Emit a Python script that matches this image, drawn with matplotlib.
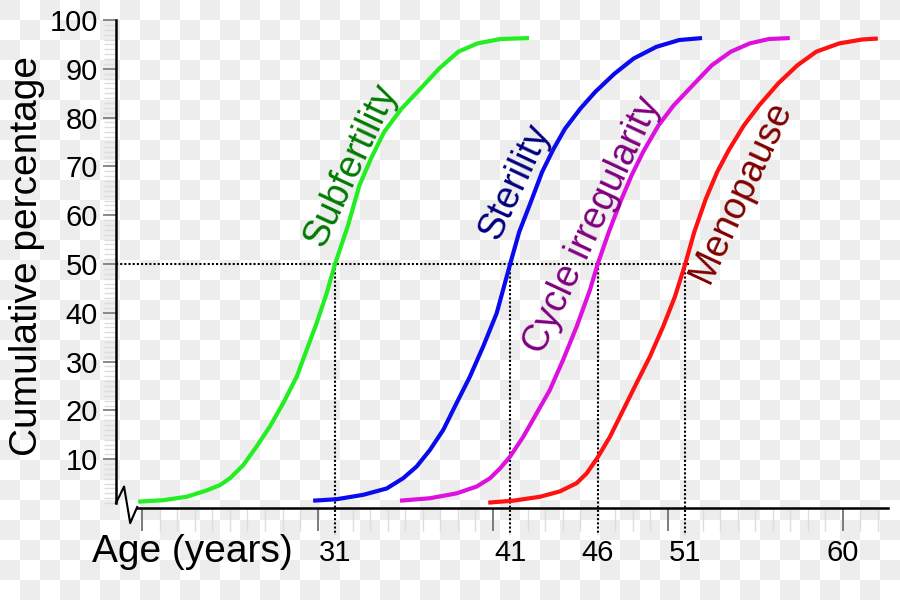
import numpy as np
import matplotlib
matplotlib.use('Agg')
import matplotlib.pyplot as plt

plt.rcParams['font.family'] = ['Liberation Sans', 'DejaVu Sans']

# values: (age in years, cumulative %)
subfert_age = [19.76, 21.19, 22.52, 23.67, 24.43, 25.00, 25.76, 26.52, 27.28, 28.04,
               28.81, 29.38, 29.95, 30.52, 31.0, 31.74, 32.39, 33.05, 33.81, 34.79,
               35.87, 36.96, 38.04, 39.13, 40.44, 42.08]
subfert_pct = [1.3, 1.6, 2.3, 3.6, 4.7, 6.1, 8.8, 12.6, 16.7, 21.5,
               26.9, 32.4, 37.9, 44.0, 50.0, 57.9, 66.1, 71.6, 77.1, 81.8,
               85.9, 90.1, 93.5, 95.2, 96.1, 96.3]

steril_age = [29.75, 31.09, 32.61, 33.95, 34.89, 35.66, 36.42, 37.18, 37.94, 38.70,
              39.46, 40.23, 41.0, 41.52, 42.18, 42.83, 43.48, 44.13, 45.0, 45.87,
              46.96, 48.05, 49.35, 50.66, 51.96]
steril_pct = [1.5, 1.8, 2.7, 4.0, 6.1, 8.5, 11.9, 16.0, 21.5, 26.9,
              33.1, 39.9, 50.0, 56.6, 62.7, 68.9, 73.6, 77.7, 81.8, 85.3,
              89.0, 92.1, 94.5, 95.9, 96.3]

cycle_age = [34.71, 36.42, 37.94, 39.09, 39.85, 40.42, 40.99, 41.75, 42.51, 43.27,
             44.03, 44.80, 45.56, 46.0, 46.64, 47.29, 47.94, 48.60, 49.47, 50.34,
             51.42, 52.51, 53.60, 54.68, 55.77, 56.97]
cycle_pct = [1.5, 2.0, 3.0, 4.4, 6.1, 8.1, 10.5, 14.6, 19.4, 24.2,
             30.4, 37.2, 44.7, 50.0, 56.6, 62.7, 68.2, 73.0, 78.4, 82.5,
             86.6, 90.7, 93.5, 95.2, 96.1, 96.3]

meno_age = [39.75, 41.18, 42.70, 43.84, 44.80, 45.37, 45.97, 46.70, 47.46, 48.22,
            48.98, 49.74, 50.41, 51.0, 51.52, 52.18, 52.83, 53.48, 54.35, 55.22,
            56.31, 57.40, 58.48, 59.79, 61.09, 62.0]
meno_pct = [1.1, 1.5, 2.3, 3.4, 5.1, 7.1, 10.2, 14.6, 20.1, 25.6,
            31.0, 37.2, 43.3, 50.0, 56.6, 63.4, 68.9, 73.3, 78.4, 82.5,
            87.0, 90.7, 93.5, 95.2, 96.0, 96.2]

labels = ['Subfertility', 'Sterility', 'Cycle irregularity', 'Menopause']
medians = [31, 41, 46, 51]
line_colors = ['#22ee22', '#0a0aee', '#dd11dd', '#ff1111']
text_colors = ['#007a00', '#000080', '#800080', '#800000']
label_pos = [(31.9, 70.3), (41.3, 66.8), (45.7, 58.0), (54.2, 64.8)]

fig = plt.figure(figsize=(9, 6), dpi=100)

# checkerboard background (transparent-png look)
yy, xx = np.indices((600, 900))
chk = ((yy // 20 + xx // 20) % 2).astype(float)
bg = np.where(chk[..., None] == 1, 0.933, 1.0) * np.ones((600, 900, 3))
fig.figimage(bg[::-1], 0, 0, zorder=-5)

ax = fig.add_axes([116 / 900, 92 / 600, 772 / 900, 488 / 600])
ax.set_facecolor('none')
ax.set_xlim(18.49, 62.58)
ax.set_ylim(0, 100)

curves = [(subfert_age, subfert_pct), (steril_age, steril_pct),
          (cycle_age, cycle_pct), (meno_age, meno_pct)]
for (xs, ys), c in zip(curves, line_colors):
    ax.plot(xs, ys, color=c, lw=3, solid_capstyle='butt', solid_joinstyle='round',
            zorder=3)

# dotted guide lines at 50 %
ax.plot([18.49, 51.3], [50, 50], color='black', lw=1.5, ls=(0, (1, 1)), zorder=2)
for m in medians:
    ax.plot([m, m], [50, -5.6], color='black', lw=1.5, ls=(0, (1, 1)),
            clip_on=False, zorder=2)

for lab, (tx, ty), c in zip(labels, label_pos, text_colors):
    ax.text(tx, ty, lab, color=c, fontsize=27, rotation=65,
            rotation_mode='anchor', ha='center', va='center')

# spines with broken axis
for s in ['top', 'right']:
    ax.spines[s].set_visible(False)
ax.spines['left'].set_bounds(1, 100)
ax.spines['bottom'].set_bounds(19.7, 62.58)
ax.spines['left'].set_linewidth(1.8)
ax.spines['bottom'].set_linewidth(1.8)
ax.plot([18.49, 18.95, 19.3, 19.7], [1, 4.4, -3.1, 0.2], color='black', lw=1.5,
        clip_on=False)

ax.set_yticks(range(10, 101, 10))
ax.set_yticks([v for v in range(1, 100) if v % 10], minor=True)
ax.tick_params(axis='y', which='major', length=9.5, width=1.2, color='#777777',
               labelsize=21, pad=3.5)
ax.tick_params(axis='y', which='minor', length=8.5, width=1, color='#dddddd')

ax.set_xticks(medians + [60])
ax.set_xticklabels([str(v) for v in medians + [60]])
ax.set_xticks([v for v in range(21, 63) if v % 10], minor=True)
ax.tick_params(axis='x', which='major', length=0, labelsize=21, pad=22)
ax.tick_params(axis='x', which='minor', length=16.5, width=1, color='#dddddd')

sec = ax.secondary_xaxis('bottom')
sec.set_xticks([20, 30, 40, 50, 60])
sec.tick_params(length=16.5, width=1.2, color='#666666', labelbottom=False)
sec.spines['bottom'].set_visible(False)

fig.text(92 / 900, 1 - 562 / 600, 'Age (years)', fontsize=28, ha='left', va='baseline')
fig.text(27 / 900, 1 - 256 / 600, 'Cumulative percentage', fontsize=28,
         rotation=90, ha='center', va='center')

fig.savefig('out.png', dpi=100)
